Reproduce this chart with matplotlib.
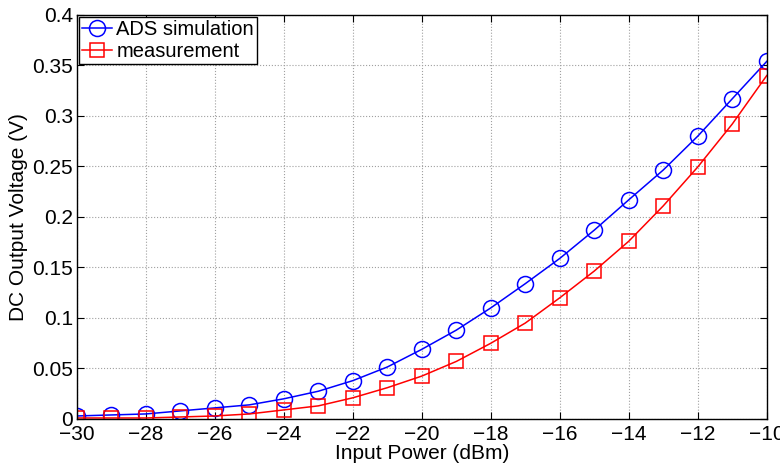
# DC output voltage vs input power
import numpy as np
import matplotlib
matplotlib.use('Agg')
import matplotlib.pyplot as plt
from matplotlib.ticker import FormatStrFormatter

plt.rcParams['font.family'] = ['Liberation Sans', 'DejaVu Sans']

# data
p_in = [-30, -29, -28, -27, -26, -25, -24, -23, -22, -21, -20,
        -19, -18, -17, -16, -15, -14, -13, -12, -11, -10]
v_ads = [0.003, 0.004, 0.005, 0.008, 0.011, 0.014, 0.020, 0.0275, 0.038, 0.0515, 0.069,
         0.088, 0.110, 0.134, 0.159, 0.187, 0.217, 0.2465, 0.280, 0.317, 0.354]
v_meas = [0.001, 0.001, 0.001, 0.002, 0.003, 0.005, 0.009, 0.013, 0.021, 0.031, 0.0425,
          0.057, 0.075, 0.095, 0.120, 0.1465, 0.176, 0.211, 0.2495, 0.292, 0.340]
x_ticks = np.arange(-30, -9, 2)
y_ticks = np.arange(0, 0.401, 0.05)

fs = 15

fig = plt.figure(figsize=(7.8, 4.67), dpi=100)
ax = fig.add_axes([0.0987, 0.1028, 0.8843, 0.8652])

ax.plot(p_in, v_ads, '-o', color='blue', lw=1.1, ms=11.5, mfc='none', mew=1.1,
        label='ADS simulation')
ax.plot(p_in, v_meas, '-s', color='red', lw=1.1, ms=9.5, mfc='none', mew=1.1,
        label='measurement')

ax.set_xlim(-30, -10)
ax.set_ylim(0, 0.4)
ax.set_xticks(x_ticks)
ax.set_yticks(y_ticks)
ax.yaxis.set_major_formatter(FormatStrFormatter('%g'))
ax.tick_params(direction='in', top=True, right=True, labelsize=fs, length=5)
ax.tick_params(axis='x', pad=4)
ax.tick_params(axis='y', pad=3)
ax.grid(True, linestyle=':', color='#a0a0a0', lw=0.8)
for s in ax.spines.values():
    s.set_linewidth(1.0)

ax.set_xlabel('Input Power (dBm)', fontsize=fs, labelpad=0.5)
ax.set_ylabel('DC Output Voltage (V)', fontsize=fs, labelpad=3)

leg = ax.legend(loc='upper left', fontsize=14.5, fancybox=False, edgecolor='black',
                framealpha=1, borderaxespad=0.1, handlelength=1.5, handletextpad=0.2,
                borderpad=0.15, labelspacing=0.15)
leg.get_frame().set_linewidth(1.0)

fig.savefig('out.png', dpi=100)
